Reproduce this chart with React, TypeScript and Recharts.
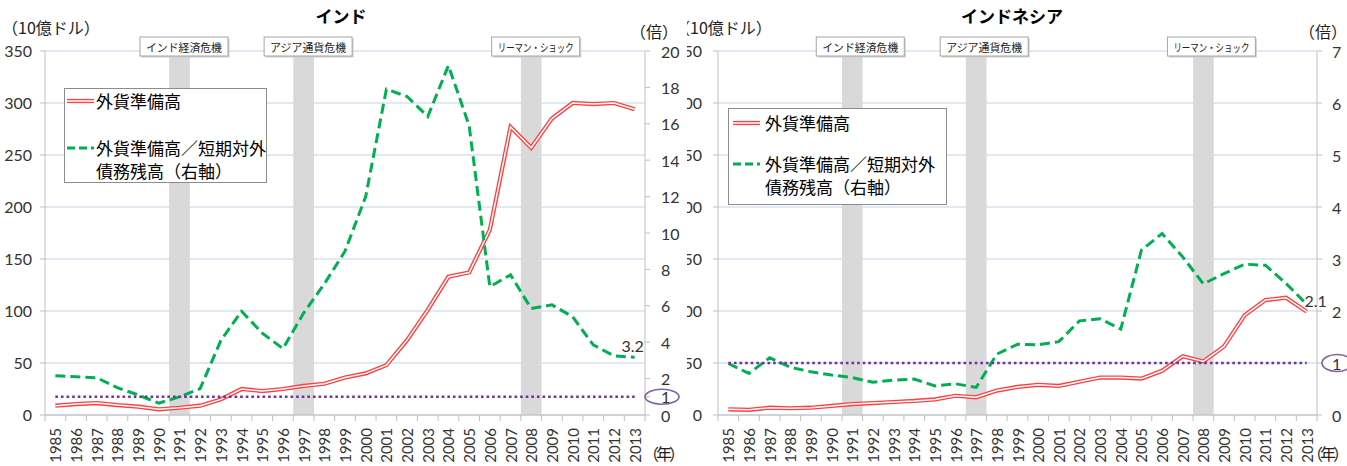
import React from 'react';
import {
  CartesianGrid,
  ComposedChart,
  Legend,
  Line,
  ReferenceArea,
  ReferenceLine,
  XAxis,
  YAxis,
} from 'recharts';

const years = [
  '1985', '1986', '1987', '1988', '1989', '1990', '1991', '1992', '1993', '1994',
  '1995', '1996', '1997', '1998', '1999', '2000', '2001', '2002', '2003', '2004',
  '2005', '2006', '2007', '2008', '2009', '2010', '2011', '2012', '2013',
];

// インド: 外貨準備高 (10億ドル) と 外貨準備高／短期対外債務残高 (倍)
const indiaReserves = [
  9, 10.5, 11.5, 9.5, 8, 5.5, 7, 9, 15, 25,
  23, 25, 28, 30, 36, 40, 48, 72, 101, 133,
  137, 178, 277, 257, 285, 300, 299, 300, 294,
];
const indiaRatio = [
  2.15, 2.1, 2.05, 1.5, 1.1, 0.65, 1.0, 1.45, 4.1, 5.7,
  4.5, 3.65, 5.6, 7.2, 9.0, 12.0, 17.9, 17.5, 16.4, 19.2,
  15.9, 7.05, 7.7, 5.85, 6.05, 5.4, 3.85, 3.25, 3.17,
];

// インドネシア
const indonesiaReserves = [
  5.5, 5, 7, 6.5, 7, 8.7, 10.5, 11.5, 12.5, 13.5,
  15, 18.5, 17, 23.5, 27, 29, 28, 32, 36, 36,
  35, 42.5, 56.5, 51.5, 66, 96, 110.5, 112.8, 99.4,
];
const indonesiaRatio = [
  0.99, 0.8, 1.1, 0.92, 0.83, 0.77, 0.72, 0.63, 0.67, 0.69,
  0.56, 0.6, 0.53, 1.17, 1.36, 1.35, 1.41, 1.81, 1.85, 1.65,
  3.17, 3.49, 3.04, 2.52, 2.72, 2.9, 2.88, 2.53, 2.13,
];

const crisisYears = ['1991', '1997', '2008'];
const crisisNames = ['インド経済危機', 'アジア通貨危機', 'リーマン・ショック'];

const reserveTicks = [0, 50, 100, 150, 200, 250, 300, 350];
const indiaRatioTicks = [0, 1, 2, 4, 6, 8, 10, 12, 14, 16, 18, 20];
const indonesiaRatioTicks = [0, 1, 2, 3, 4, 5, 6, 7];
const threshold = 1;

const RESERVE_NAME = '外貨準備高';
const RATIO_NAME = '外貨準備高／短期対外債務残高（右軸）';

const NUM = "Lato, 'Noto Sans CJK JP', sans-serif";
const JP = "'Noto Sans CJK JP', sans-serif";
const AXIS = '#bfbfbf';
const GRID = '#c3d2e6';

function YearTick({ x, y, payload, index, bw }: any) {
  const last = index === years.length - 1;
  return (
    <g>
      <line x1={x - bw / 2} x2={x - bw / 2} y1={y} y2={y + 6} stroke={AXIS} />
      {last && <line x1={x + bw / 2} x2={x + bw / 2} y1={y} y2={y + 6} stroke={AXIS} />}
      <text
        transform={`translate(${x},${y + 13}) rotate(-90)`}
        textAnchor="end"
        dominantBaseline="central"
        fontSize={15}
        fontFamily={NUM}
        fill="#333"
      >
        {payload.value}
      </text>
    </g>
  );
}

function RatioTick({ x, y, payload, ell }: any) {
  return (
    <g>
      <text x={x} y={y} textAnchor="start" dominantBaseline="central" fontSize={16} fontFamily={NUM} fill="#333">
        {payload.value}
      </text>
      {payload.value === threshold && (
        <ellipse cx={x + ell.dx} cy={y} rx={ell.rx} ry={ell.ry} fill="none" stroke="#8064a2" strokeWidth={1.6} />
      )}
    </g>
  );
}

function CrisisTag({ viewBox, text, shift }: any) {
  if (!viewBox) return null;
  const cx = viewBox.x + viewBox.width / 2 + shift;
  const w = 88;
  const h = 19;
  const top = 37;
  return (
    <g>
      <rect x={cx - w / 2 + 1.5} y={top + 1.5} width={w} height={h} fill="#d0d0d0" />
      <rect x={cx - w / 2} y={top} width={w} height={h} fill="#fff" stroke="#a6a6a6" />
      <text
        x={cx}
        y={top + h / 2 + 0.5}
        textAnchor="middle"
        dominantBaseline="central"
        fontSize={11}
        fontFamily={JP}
        fill="#222"
        textLength={76}
        lengthAdjust="spacingAndGlyphs"
      >
        {text}
      </text>
    </g>
  );
}

function LegendBox({ payload, cfg }: any) {
  const seen: Record<string, boolean> = {};
  const items = (payload || []).filter((p: any) => {
    if (p.dataKey !== 'reserve' && p.dataKey !== 'ratio') return false;
    if (seen[p.dataKey]) return false;
    seen[p.dataKey] = true;
    return true;
  });
  return (
    <div
      style={{
        position: 'relative',
        width: cfg.w,
        height: cfg.h,
        boxSizing: 'border-box',
        border: '1px solid #8c8c8c',
        background: '#fff',
        fontFamily: JP,
        fontSize: 17,
        color: '#000',
      }}
    >
      {items.map((it: any) => {
        const isRatio = it.dataKey === 'ratio';
        const name = String(it.value);
        const lines = isRatio ? [name.slice(0, 10), name.slice(10)] : [name];
        const rowY = isRatio ? cfg.rows[1] : cfg.rows[0];
        return (
          <React.Fragment key={it.dataKey}>
            <svg style={{ position: 'absolute', left: cfg.sx, top: rowY - 5 }} width={27} height={10}>
              {isRatio ? (
                <line x1={0} x2={27} y1={5} y2={5} stroke={it.color} strokeWidth={3} strokeDasharray="8 4" />
              ) : (
                <>
                  <line x1={0} x2={27} y1={5} y2={5} stroke={it.color} strokeWidth={4.2} />
                  <line x1={0} x2={27} y1={5} y2={5} stroke="#fff" strokeWidth={1.5} />
                </>
              )}
            </svg>
            {lines.map((t, k) => (
              <div
                key={k}
                style={{
                  position: 'absolute',
                  left: cfg.tx,
                  top: rowY + k * cfg.lh - 11,
                  height: 22,
                  lineHeight: '22px',
                  whiteSpace: 'nowrap',
                }}
              >
                {t}
              </div>
            ))}
          </React.Fragment>
        );
      })}
    </div>
  );
}

function Panel({ cfg }: any) {
  const data = years.map((year, i) => ({
    year,
    reserve: cfg.reserves[i],
    reserveCore: cfg.reserves[i],
    ratio: cfg.ratio[i],
  }));
  const plotW = cfg.width - cfg.leftAxisW - cfg.rightAxisW;
  const bw = plotW / years.length;
  const lastIdx = years.length - 1;

  const endDot = (p: any) => {
    if (p.index !== lastIdx) return <g key={`d${p.index}`} />;
    return (
      <text
        key="end"
        x={p.cx + cfg.endLabel.dx}
        y={p.cy + cfg.endLabel.dy}
        textAnchor="middle"
        dominantBaseline="central"
        fontSize={16}
        fontFamily={NUM}
        fill="#333"
      >
        {Number(p.payload.ratio).toFixed(1)}
      </text>
    );
  };

  const unit = (text: string, x: number, top: number, spacing = 0) => (
    <div
      style={{
        position: 'absolute',
        left: x,
        top,
        height: 18,
        lineHeight: '18px',
        fontFamily: JP,
        fontSize: 16,
        color: '#222',
        whiteSpace: 'nowrap',
        letterSpacing: spacing,
      }}
    >
      {text}
    </div>
  );

  return (
    <div
      style={{
        position: 'absolute',
        left: cfg.left,
        top: 0,
        width: cfg.width,
        height: 466,
        background: '#fff',
        zIndex: cfg.z,
        overflow: 'hidden',
      }}
    >
      <ComposedChart width={cfg.width} height={466} data={data} margin={{ top: 51, right: 0, bottom: 0, left: 0 }}>
        <CartesianGrid yAxisId="left" vertical={false} stroke={GRID} />
        <XAxis
          dataKey="year"
          scale="band"
          interval={0}
          height={51}
          tickSize={0}
          tickMargin={0}
          axisLine={{ stroke: AXIS }}
          tick={(p: any) => <YearTick {...p} bw={bw} />}
        />
        <YAxis
          yAxisId="left"
          width={cfg.leftAxisW}
          domain={[0, 350]}
          ticks={reserveTicks}
          interval={0}
          tickSize={5}
          tickMargin={cfg.leftTickMargin}
          axisLine={{ stroke: AXIS }}
          tickLine={{ stroke: AXIS }}
          tick={{ fontSize: 16, fill: '#333', fontFamily: NUM }}
        />
        <YAxis
          yAxisId="right"
          orientation="right"
          width={cfg.rightAxisW}
          domain={[0, cfg.ratioMax]}
          ticks={cfg.ratioTicks}
          interval={0}
          tickSize={5}
          tickMargin={cfg.rightTickMargin}
          axisLine={{ stroke: AXIS }}
          tickLine={{ stroke: AXIS }}
          tick={(p: any) => <RatioTick {...p} ell={cfg.ell} />}
        />
        {crisisYears.map((yr, i) => (
          <ReferenceArea
            key={yr}
            yAxisId="left"
            x1={yr}
            x2={yr}
            y1={0}
            y2={350}
            fill="#d9d9d9"
            fillOpacity={1}
            stroke="none"
            label={(p: any) => <CrisisTag viewBox={p.viewBox} text={crisisNames[i]} shift={cfg.tagShift} />}
          />
        ))}
        <Line
          yAxisId="left"
          dataKey="reserve"
          name={RESERVE_NAME}
          stroke="#ff4040"
          strokeWidth={4.2}
          dot={false}
          activeDot={false}
          isAnimationActive={false}
        />
        <Line
          yAxisId="left"
          dataKey="reserveCore"
          stroke="#ffffff"
          strokeWidth={1.5}
          legendType="none"
          dot={false}
          activeDot={false}
          isAnimationActive={false}
        />
        <Line
          yAxisId="right"
          dataKey="ratio"
          name={RATIO_NAME}
          stroke="#00b050"
          strokeWidth={3}
          strokeDasharray="10 5"
          dot={endDot}
          activeDot={false}
          isAnimationActive={false}
        />
        <ReferenceLine
          yAxisId="right"
          segment={[
            { x: years[0], y: threshold },
            { x: years[lastIdx], y: threshold },
          ]}
          stroke="#7030a0"
          strokeWidth={2.6}
          strokeDasharray="2.6 3"
        />
        <Legend
          layout="vertical"
          align="center"
          verticalAlign="middle"
          wrapperStyle={{ left: cfg.legend.x, top: cfg.legend.y, width: cfg.legend.w, height: cfg.legend.h }}
          content={(p: any) => <LegendBox payload={p.payload} cfg={cfg.legend} />}
        />
      </ComposedChart>
      <div
        style={{
          position: 'absolute',
          left: cfg.titleX - 80,
          width: 160,
          top: 4,
          height: 24,
          lineHeight: '24px',
          textAlign: 'center',
          fontFamily: JP,
          fontWeight: 700,
          fontSize: 17,
          color: '#000',
        }}
      >
        {cfg.title}
      </div>
      {unit('（10億ドル）', cfg.unitLeftX, 18)}
      {unit('（倍）', cfg.unitRightX, 22)}
      {unit('（年）', cfg.unitYearX, 444, -3)}
    </div>
  );
}

const indiaCfg = {
  title: 'インド',
  titleX: 341,
  reserves: indiaReserves,
  ratio: indiaRatio,
  ratioMax: 20,
  ratioTicks: indiaRatioTicks,
  left: 0,
  width: 687,
  z: 2,
  leftAxisW: 45,
  rightAxisW: 42,
  leftTickMargin: 8,
  rightTickMargin: 11,
  tagShift: 4.5,
  legend: { x: 64, y: 88, w: 203, h: 95, rows: [12, 59], lh: 23, sx: 2, tx: 31 },
  ell: { dx: 1, rx: 17, ry: 7.5 },
  endLabel: { dx: -2, dy: -12 },
  unitLeftX: 2,
  unitRightX: 630,
  unitYearX: 643,
};

const indonesiaCfg = {
  title: 'インドネシア',
  titleX: 354,
  reserves: indonesiaReserves,
  ratio: indonesiaRatio,
  ratioMax: 7,
  ratioTicks: indonesiaRatioTicks,
  left: 658,
  width: 689,
  z: 1,
  leftAxisW: 60,
  rightAxisW: 30,
  leftTickMargin: 11,
  rightTickMargin: 10,
  tagShift: 8,
  legend: { x: 70, y: 108, w: 219, h: 97, rows: [14, 55], lh: 23, sx: 4, tx: 36 },
  ell: { dx: 5, rx: 15, ry: 8.5 },
  endLabel: { dx: 9, dy: -3.5 },
  unitLeftX: 16,
  unitRightX: 641,
  unitYearX: 649,
};

export default function App() {
  return (
    <div
      style={{
        position: 'absolute',
        left: 0,
        top: 0,
        width: 1347,
        height: 466,
        overflow: 'hidden',
        background: '#fff',
      }}
    >
      <Panel cfg={indonesiaCfg} />
      <Panel cfg={indiaCfg} />
    </div>
  );
}
